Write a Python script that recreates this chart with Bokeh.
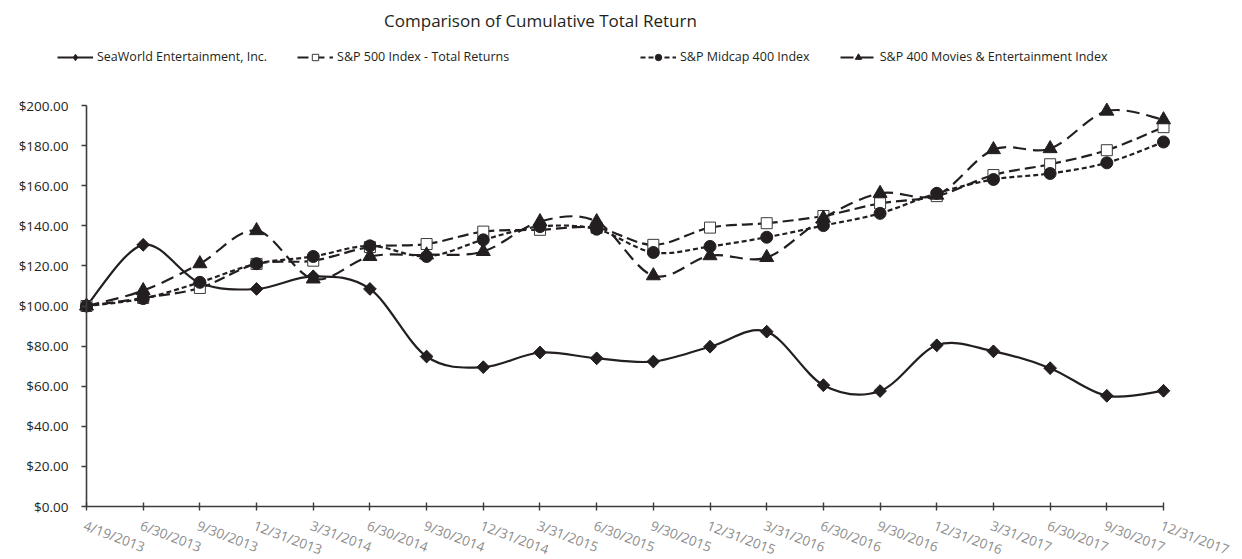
import numpy as np
from bokeh.plotting import figure
from bokeh.models import (Range1d, Legend, LegendItem, Label, NumeralTickFormatter,
                          FixedTicker, ColumnDataSource)
from bokeh.embed import file_html
from bokeh.resources import INLINE
from bokeh.core.properties import value

dates = ["4/19/2013", "6/30/2013", "9/30/2013", "12/31/2013", "3/31/2014", "6/30/2014",
         "9/30/2014", "12/31/2014", "3/31/2015", "6/30/2015", "9/30/2015", "12/31/2015",
         "3/31/2016", "6/30/2016", "9/30/2016", "12/31/2016", "3/31/2017", "6/30/2017",
         "9/30/2017", "12/31/2017"]
seaworld = [100, 130.5, 111.5, 108.5, 114.8, 108.5, 74.8, 69.5, 76.8, 73.9,
            72.3, 79.7, 87.2, 60.5, 57.6, 80.4, 77.4, 69.0, 55.2, 57.7]
sp500 = [100, 104.0, 109.0, 121.0, 122.6, 129.4, 130.9, 137.1, 138.0, 139.0,
         130.5, 139.1, 141.3, 144.9, 151.2, 154.8, 165.3, 170.7, 177.7, 189.2]
midcap = [100, 103.7, 111.8, 121.1, 124.7, 130.0, 124.7, 133.0, 139.6, 138.3,
          126.7, 129.7, 134.3, 140.1, 146.2, 156.2, 163.1, 166.1, 171.4, 181.8]
movies = [100, 107.7, 121.1, 137.6, 113.5, 124.7, 125.5, 127.2, 142.1, 142.1,
          115.1, 125.1, 124.2, 143.8, 156.2, 155.3, 178.0, 178.5, 197.2, 192.9]
series_names = ["SeaWorld Entertainment, Inc.", "S&P 500 Index - Total Returns",
                "S&P Midcap 400 Index", "S&P 400 Movies & Entertainment Index"]
y_ticks = [0, 20, 40, 60, 80, 100, 120, 140, 160, 180, 200]

FONT = "Open Sans"
INK = "#231f20"
AXIS = "#3c3c3c"

W, H = 1242, 559
# plot area in pixels: x index 0 at 86 px, 19 at 1163 px; $0 at 506 px, $200 at 105 px
kx = (1163 - 86) / 19.0
ky = (506 - 105) / 200.0
x_range = Range1d(-86 / kx, 19 + (W - 1163) / kx)
y_range = Range1d(-(H - 506) / ky, 506 / ky)

p = figure(width=W, height=H, output_backend="svg", toolbar_location=None,
           x_range=x_range, y_range=y_range,
           min_border_left=0, min_border_right=0, min_border_top=0, min_border_bottom=0)
p.outline_line_color = None
p.xgrid.visible = False
p.ygrid.visible = False
p.background_fill_color = "white"
p.border_fill_color = "white"

# y axis, pinned at the first category
p.yaxis.fixed_location = 0
p.yaxis.bounds = (0, 200)
p.yaxis.ticker = FixedTicker(ticks=y_ticks)
p.yaxis.formatter = NumeralTickFormatter(format="$0.00")
p.yaxis.major_label_text_font = FONT
p.yaxis.major_label_text_font_size = "13.5px"
p.yaxis.major_label_text_color = INK
p.yaxis.major_tick_out = 5
p.yaxis.major_tick_in = 0
p.yaxis.minor_tick_line_color = None
p.yaxis.major_label_standoff = 13
p.yaxis.axis_line_color = AXIS
p.yaxis.axis_line_width = 1.6
p.yaxis.major_tick_line_color = AXIS
p.yaxis.major_tick_line_width = 1.4

# x axis (line + ticks) pinned at $0; labels drawn as slanted text below
xs = list(range(len(dates)))
p.xaxis.fixed_location = 0
p.xaxis.bounds = (0, len(dates) - 1)
p.xaxis.ticker = FixedTicker(ticks=xs)
p.xaxis.major_label_overrides = {i: "" for i in xs}
p.xaxis.major_label_text_color = None
p.xaxis.major_tick_out = 4
p.xaxis.major_tick_in = 4
p.xaxis.minor_tick_line_color = None
p.xaxis.axis_line_color = AXIS
p.xaxis.axis_line_width = 1.6
p.xaxis.major_tick_line_color = AXIS
p.xaxis.major_tick_line_width = 1.4

p.text(x=xs, y=0, text=dates, angle=-0.36, text_align="left", text_baseline="top",
       x_offset=1, y_offset=10, text_font=value(FONT), text_font_size="13.5px",
       text_color="#8c8c8c")


def smooth_source(x, y):
    # Bezier control points for a smoothed (Catmull-Rom style) line through the data
    x = np.asarray(x, float)
    y = np.asarray(y, float)
    n = len(x)
    xp = np.concatenate([[x[0]], x, [x[-1]]])
    yp = np.concatenate([[y[0]], y, [y[-1]]])
    d = dict(x0=[], y0=[], x1=[], y1=[], cx0=[], cy0=[], cx1=[], cy1=[])
    for i in range(n - 1):
        p0x, p0y = xp[i], yp[i]
        p1x, p1y = xp[i + 1], yp[i + 1]
        p2x, p2y = xp[i + 2], yp[i + 2]
        p3x, p3y = xp[i + 3], yp[i + 3]
        d["x0"].append(p1x); d["y0"].append(p1y)
        d["x1"].append(p2x); d["y1"].append(p2y)
        d["cx0"].append(p1x + (p2x - p0x) / 6.0); d["cy0"].append(p1y + (p2y - p0y) / 6.0)
        d["cx1"].append(p2x - (p3x - p1x) / 6.0); d["cy1"].append(p2y - (p3y - p1y) / 6.0)
    return ColumnDataSource(d)


styles = [
    dict(data=seaworld, dash="solid", marker="square", size=9, angle=np.pi / 4, fill=INK, line=INK),
    dict(data=sp500, dash="11 5", marker="square", size=11, angle=0, fill="white", line="#3a3a3a"),
    dict(data=midcap, dash="5 3", marker="circle", size=12, angle=0, fill=INK, line=INK),
    dict(data=movies, dash="13 7", marker="triangle", size=14, angle=0, fill=INK, line=INK),
]

items = []
for k, (name, st) in enumerate(zip(series_names, styles)):
    src = smooth_source(xs, st["data"])
    r_line = p.bezier(x0="x0", y0="y0", x1="x1", y1="y1", cx0="cx0", cy0="cy0",
                      cx1="cx1", cy1="cy1", source=src, line_color=INK, line_width=2.2,
                      line_dash=st["dash"])
    rends = [r_line]
    if k == 0:
        # diamond drawn underneath the rotated squares; it gives the legend its diamond glyph
        r_dia = p.scatter(xs, st["data"], marker="diamond", size=12,
                          fill_color=INK, line_color=INK, line_width=1)
        rends.append(r_dia)
    r_mark = p.scatter(xs, st["data"], marker=st["marker"], size=st["size"], angle=st["angle"],
                       fill_color=st["fill"], line_color=st["line"], line_width=1)
    if k != 0:
        rends.append(r_mark)
    items.append(LegendItem(label=name, renderers=rends))


def make_legend(its, loc):
    lg = Legend(items=its, orientation="horizontal", location=loc,
                label_text_font=FONT, label_text_font_size="12.5px", label_text_color=INK,
                glyph_width=36, glyph_height=16, label_height=16, label_standoff=4,
                spacing=30, padding=0, margin=0, border_line_color=None,
                background_fill_alpha=0)
    return lg


# legend row centred near y=57 px from the top
p.add_layout(make_legend(items[:2], (57, H - 65)))
p.add_layout(make_legend(items[2:], (640, H - 65)))

title = Label(x=540, y=H - 20, x_units="screen", y_units="screen",
              text="Comparison of Cumulative Total Return", text_align="center",
              text_baseline="middle", text_font=FONT, text_font_size="17px",
              text_color=INK)
p.add_layout(title)

open("out.html", "w").write(file_html(p, INLINE))
